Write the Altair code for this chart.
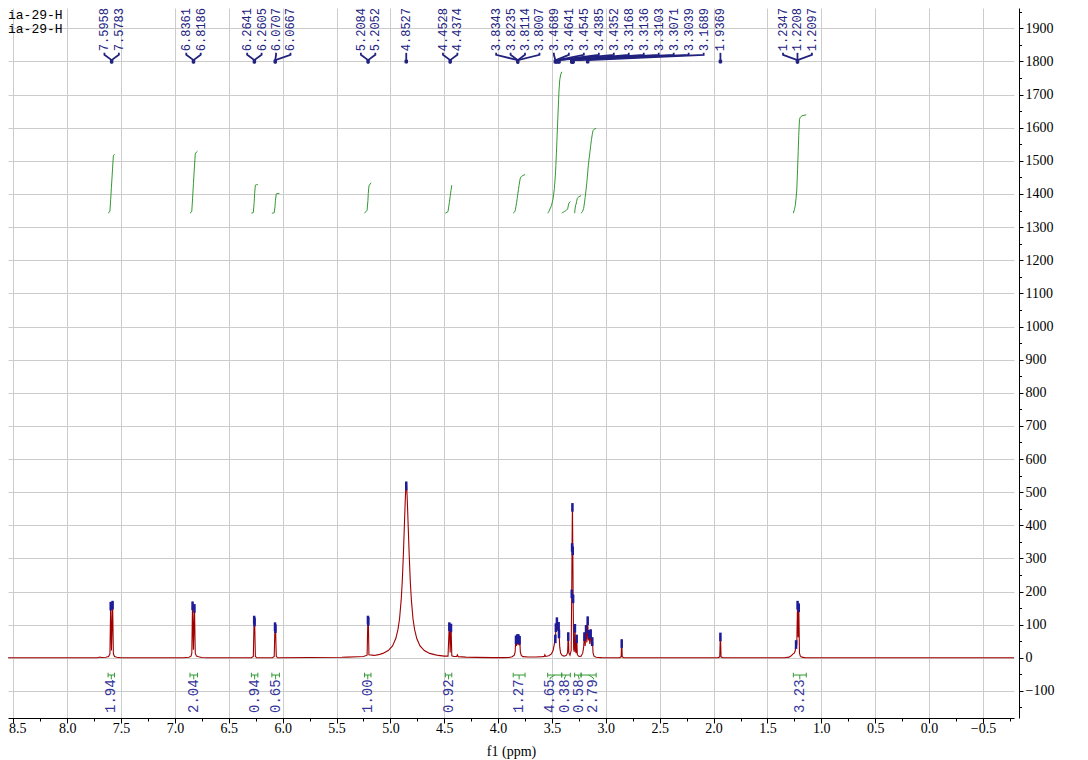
import altair as alt
import numpy as np
import pandas as pd

# ---------------- data ----------------
# spectrum vertices (ppm, intensity), descending ppm
seg_759 = [(7.72, 0), (7.695, 2.5), (7.685, 1), (7.64, 1.5), (7.615, 4), (7.603, 12), (7.5958, 168),
           (7.589, 22), (7.5783, 171), (7.571, 12), (7.56, 4), (7.54, 1.5), (7.50, 0)]
seg_683 = [(6.92, 0), (6.87, 1.5), (6.85, 5), (6.843, 14), (6.8361, 169), (6.828, 24), (6.8186, 161),
           (6.811, 14), (6.80, 5), (6.78, 3), (6.75, 1), (6.70, 0)]
seg_626 = [(6.29, 0), (6.272, 4), (6.2641, 126), (6.2623, 102), (6.2605, 120), (6.253, 4), (6.24, 0)]
seg_607 = [(6.095, 0), (6.078, 4), (6.0707, 106), (6.0687, 86), (6.0667, 100), (6.059, 4), (6.045, 0)]
seg_485 = [(5.45, 1.5), (5.40, 2.1), (5.30, 3.2), (5.25, 4.0), (5.216, 8), (5.2084, 126), (5.2068, 104),
           (5.2052, 122), (5.199, 9), (5.15, 7.2), (5.11, 9.5), (5.07, 13.3), (5.02, 22), (4.98, 36),
           (4.95, 58), (4.93, 85), (4.915, 117), (4.90, 174), (4.89, 229), (4.88, 307), (4.87, 400),
           (4.865, 448), (4.86, 491), (4.855, 522), (4.8527, 531), (4.85, 522), (4.845, 491), (4.84, 448),
           (4.835, 400), (4.825, 307), (4.815, 229), (4.805, 174), (4.79, 117), (4.775, 85), (4.755, 58),
           (4.725, 36), (4.685, 22), (4.635, 13.3), (4.59, 9.5), (4.555, 7.2), (4.50, 5.2), (4.465, 5),
           (4.4528, 106), (4.445, 16), (4.4374, 102), (4.43, 6), (4.41, 4), (4.385, 4), (4.378, 9),
           (4.371, 3.5), (4.30, 2.1), (4.20, 1.2), (4.05, 0.5), (3.95, 0.5)]
seg_382 = [(3.90, 1), (3.87, 3), (3.85, 8), (3.842, 18), (3.8343, 66), (3.829, 36), (3.8235, 70),
           (3.818, 40), (3.8114, 70), (3.806, 38), (3.8007, 65), (3.794, 18), (3.785, 7), (3.77, 3.5),
           (3.72, 2.5), (3.65, 2.5), (3.59, 3.5), (3.572, 4), (3.566, 9), (3.56, 4), (3.53, 6), (3.505, 12)]
seg_346 = [(3.49, 22), (3.478, 42), (3.4689, 69), (3.467, 58), (3.4641, 103), (3.459, 78), (3.4545, 121),
           (3.446, 82), (3.4385, 107), (3.437, 92), (3.4352, 84), (3.428, 32), (3.42, 14), (3.405, 7),
           (3.385, 5), (3.365, 8), (3.355, 16), (3.349, 76), (3.343, 14), (3.333, 8)]
seg_331 = [(3.322, 22), (3.3168, 205), (3.3136, 345), (3.3103, 466), (3.3071, 335), (3.3039, 190),
           (3.299, 26), (3.293, 18), (3.287, 101), (3.281, 20), (3.276, 14), (3.271, 69), (3.265, 10),
           (3.25, 4)]
seg_317 = [(3.23, 5), (3.215, 14), (3.206, 32), (3.199, 76), (3.192, 36), (3.184, 98), (3.177, 46),
           (3.1689, 124), (3.163, 52), (3.157, 83), (3.149, 42), (3.141, 85), (3.134, 36), (3.126, 61),
           (3.119, 15), (3.11, 5), (3.09, 1.5), (3.04, 0.5), (2.95, 0)]
seg_285 = [(2.87, 0), (2.858, 3), (2.853, 55), (2.848, 3), (2.835, 0)]
seg_194 = [(1.96, 0), (1.943, 3), (1.9369, 75), (1.931, 3), (1.915, 0)]
seg_122 = [(1.34, 0), (1.30, 2), (1.28, 6), (1.265, 11), (1.25, 15), (1.242, 22), (1.2347, 52),
           (1.228, 38), (1.2208, 171), (1.215, 62), (1.2097, 163), (1.203, 14), (1.195, 5), (1.18, 2),
           (1.15, 0)]
seg_ends = [(8.60, 0), (-0.80, 0)]

# peak-picking marks (ppm)
pick_ppm = [7.5958, 7.5783, 6.8361, 6.8186, 6.2641, 6.2605, 6.0707, 6.0667, 5.2084, 5.2052, 4.8527,
            4.4528, 4.4374, 3.8343, 3.8235, 3.8114, 3.8007, 3.4689, 3.4641, 3.4545, 3.4385, 3.4352,
            3.349, 3.3168, 3.3136, 3.3103, 3.3071, 3.3039, 3.287, 3.271, 3.199, 3.184, 3.1689, 3.157,
            3.141, 3.126, 2.853, 1.9369, 1.2347, 1.2208, 1.2097]

# labelled peaks, grouped as in the picture
peak_groups = [[7.5958, 7.5783], [6.8361, 6.8186], [6.2641, 6.2605], [6.0707, 6.0667],
               [5.2084, 5.2052], [4.8527], [4.4528, 4.4374], [3.8343, 3.8235, 3.8114, 3.8007],
               [3.4689, 3.4641, 3.4545, 3.4385, 3.4352, 3.3168, 3.3136, 3.3103, 3.3071, 3.3039, 3.1689],
               [1.9369], [1.2347, 1.2208, 1.2097]]
fan_groups = [8]

# integrals
int_lo = [7.62, 6.86, 6.29, 6.10, 5.24, 4.49, 3.86, 3.54, 3.41, 3.29, 3.23, 1.26]
int_hi = [7.56, 6.79, 6.23, 6.03, 5.18, 4.43, 3.75, 3.41, 3.33, 3.23, 3.09, 1.14]
int_val = [1.94, 2.04, 0.94, 0.65, 1.00, 0.92, 1.27, 4.65, 0.38, 0.58, 2.79, 3.23]

# ---------------- layout constants ----------------
X_DOM = [8.549, -0.788]
Y_DOM = [-181.7, 1961.4]
W, H = 1006, 710
INT_BASE, INT_SCALE = 1342, 91.8
LAB_SP = 0.134      # label spacing (ppm)
FAN_SP = 0.139      # label spacing inside the fanned group
RED, BLUE, NAVY, GREEN = "#a00000", "#1c1c9c", "#22227f", "#339933"

# ---------------- derived tables ----------------
spec = sorted(seg_ends + seg_759 + seg_683 + seg_626 + seg_607 + seg_485 + seg_382 + seg_346
              + seg_331 + seg_317 + seg_285 + seg_194 + seg_122, key=lambda t: -t[0])
sp = np.array([p for p, _ in spec])
si = np.array([v for _, v in spec])
spec_df = pd.DataFrame({"x": sp, "y": si, "o": np.arange(len(sp))})

tops = np.interp(pick_ppm, sp[::-1], si[::-1])
pick_df = pd.DataFrame({"x": pick_ppm, "y": tops + 1, "y2": tops - 25})

# peak label layout (greedy, groups centred on their multiplet)
lab_rows, con_rows, join_rows = [], [], []
prev = 1e9
lid = 0
for gi, g in enumerate(peak_groups):
    n = len(g)
    s = FAN_SP if gi in fan_groups else LAB_SP
    c = float(np.mean(g))
    start = min(c + s * (n - 1) / 2, prev - LAB_SP)
    pos = [start - s * k for k in range(n)]
    prev = pos[-1]
    for k, p in enumerate(g):
        jx = p if gi in fan_groups else c
        lab_rows.append({"x": pos[k], "y": 1831, "t": f"{p:.4f}"})
        for o, (xx, yy) in enumerate([(pos[k], 1826), (pos[k], 1820), (jx, 1804), (jx, 1794)]):
            con_rows.append({"x": xx, "y": yy, "id": lid, "o": o})
        join_rows.append({"x": jx, "y": 1800})
        lid += 1
lab_df = pd.DataFrame(lab_rows)
con_df = pd.DataFrame(con_rows)
join_df = pd.DataFrame(join_rows).drop_duplicates()

# integral curves (running integral of the spectrum over each region)
int_rows = []
for i, (lo, hi, v) in enumerate(zip(int_lo, int_hi, int_val)):
    inside = (sp < lo) & (sp > hi)
    xs = np.concatenate([[lo], sp[inside], [hi]])
    ys = np.interp(xs, sp[::-1], si[::-1])
    cum = np.concatenate([[0.0], np.cumsum((ys[1:] + ys[:-1]) / 2 * (xs[:-1] - xs[1:]))])
    frac = cum / cum[-1]
    for o, (xx, ff) in enumerate(zip(xs, frac)):
        int_rows.append({"x": xx, "y": INT_BASE + v * INT_SCALE * ff, "id": i, "o": o})
int_df = pd.DataFrame(int_rows)

# integral label layout (cluster merging)
centers = [(a + b) / 2 for a, b in zip(int_lo, int_hi)]
clusters = []
for idx, c in enumerate(centers):
    clusters.append([idx])
    while len(clusters) > 1:
        a, b = clusters[-2], clusters[-1]
        la = np.mean([centers[j] for j in a]) - LAB_SP * (len(a) - 1) / 2
        fb = np.mean([centers[j] for j in b]) + LAB_SP * (len(b) - 1) / 2
        if la - fb < LAB_SP:
            clusters[-2:] = [a + b]
        else:
            break
ilab_x = [0.0] * len(centers)
for cl in clusters:
    m = np.mean([centers[j] for j in cl])
    for k, j in enumerate(cl):
        ilab_x[j] = m + LAB_SP * ((len(cl) - 1) / 2 - k)

br_df = pd.DataFrame({"x": int_lo, "x2": int_hi, "y": [-52] * len(int_lo)})
cap_df = pd.DataFrame({"x": int_lo + int_hi, "y": [-45] * (2 * len(int_lo)), "y2": [-59] * (2 * len(int_lo))})
ilab_df = pd.DataFrame({"x": ilab_x, "y": [-65] * len(ilab_x), "t": [f"{v:.2f}" for v in int_val]})
icon_rows = []
for i, (c, lx) in enumerate(zip(centers, ilab_x)):
    for o, (xx, yy) in enumerate([(c, -52), (lx, -61), (lx, -65)]):
        icon_rows.append({"x": xx, "y": yy, "id": i, "o": o})
icon_df = pd.DataFrame(icon_rows)

# ---------------- scales / axes ----------------
XS = alt.Scale(domain=X_DOM, nice=False, zero=False)
YS = alt.Scale(domain=Y_DOM, nice=False, zero=False)
x_vals = [round(8.5 - 0.25 * i, 2) for i in range(38)]
y_vals = list(range(-150, 1951, 50))
xmaj = "abs(datum.value*2 - round(datum.value*2)) < 0.001"
ymaj = "datum.value % 100 === 0"

X_AX = alt.Axis(values=x_vals, format=".1f", labelExpr=f"{xmaj} ? datum.label : ''",
                tickSize={"condition": {"test": xmaj, "value": 5}, "value": 3},
                labelOffset={"condition": {"test": "datum.value === 8.5", "value": 4}, "value": 0},
                grid=True, gridColor="#cccccc", gridWidth=1,
                gridOpacity={"condition": {"test": xmaj, "value": 1}, "value": 0},
                domainColor="#000000", tickColor="#000000", labelColor="#000000",
                labelFont="Liberation Serif", labelFontSize=14, labelPadding=-2,
                labelFlush=False, labelOverlap=False,
                title="f1 (ppm)", titleFont="Liberation Serif", titleFontSize=14,
                titleFontWeight="normal", titleColor="#000000", titlePadding=9)
Y_AX = alt.Axis(orient="right", offset=5, values=y_vals, format="d",
                labelExpr=f"{ymaj} ? datum.label : ''",
                tickSize={"condition": {"test": ymaj, "value": 4}, "value": 2.5},
                grid=True, gridColor="#cccccc", gridWidth=1,
                gridOpacity={"condition": {"test": ymaj, "value": 1}, "value": 0},
                domainColor="#000000", tickColor="#000000", labelColor="#000000",
                labelFont="Liberation Serif", labelFontSize=14, labelPadding=2,
                labelFlush=False, labelOverlap=False, title=None)


def X(f="x"):
    return alt.X(f"{f}:Q", scale=XS, axis=X_AX)


def Y(f="y"):
    return alt.Y(f"{f}:Q", scale=YS, axis=Y_AX)


spectrum = alt.Chart(spec_df).mark_line(color=RED, strokeWidth=1.1, clip=True).encode(
    x=X(), y=Y(), order="o:Q")
picks = alt.Chart(pick_df).mark_rule(color=BLUE, strokeWidth=2.5).encode(x=X(), y=Y(), y2="y2:Q")
integrals = alt.Chart(int_df).mark_line(color=GREEN, strokeWidth=1).encode(
    x=X(), y=Y(), detail="id:N", order="o:Q")
brackets = alt.Chart(br_df).mark_rule(color=GREEN, strokeWidth=1).encode(x=X(), x2="x2:Q", y=Y())
caps = alt.Chart(cap_df).mark_rule(color=GREEN, strokeWidth=1).encode(x=X(), y=Y(), y2="y2:Q")
iconn = alt.Chart(icon_df).mark_line(color=GREEN, strokeWidth=1).encode(
    x=X(), y=Y(), detail="id:N", order="o:Q")
ilabels = alt.Chart(ilab_df).mark_text(angle=270, align="right", baseline="middle",
                                       font="Liberation Mono", fontSize=14, color="#333399").encode(
    x=X(), y=Y(), text="t:N")
connectors = alt.Chart(con_df).mark_line(color=NAVY, strokeWidth=1.8).encode(
    x=X(), y=Y(), detail="id:N", order="o:Q")
joins = alt.Chart(join_df).mark_square(color=NAVY, size=12, opacity=1).encode(x=X(), y=Y())
labels = alt.Chart(lab_df).mark_text(angle=270, align="left", baseline="middle",
                                     font="Liberation Mono", fontSize=12, color=NAVY).encode(
    x=X(), y=Y(), text="t:N")

chart = alt.layer(integrals, brackets, caps, iconn, ilabels, spectrum, picks, connectors, joins, labels
                  ).properties(
    width=W, height=H,
    padding={"left": 0, "top": 0, "right": 66, "bottom": 41},
    autosize=alt.AutoSizeParams(type="none"),
    title=alt.TitleParams(["ia-29-H", "ia-29-H"], anchor="start", frame="group", orient="top",
                          font="Liberation Mono", fontSize=13, fontWeight="normal", color="#000000",
                          baseline="bottom", offset=0, dy=44, lineHeight=14),
).configure_view(stroke=None)

chart.save("out.html", embed_options={"renderer": "svg", "actions": False})
